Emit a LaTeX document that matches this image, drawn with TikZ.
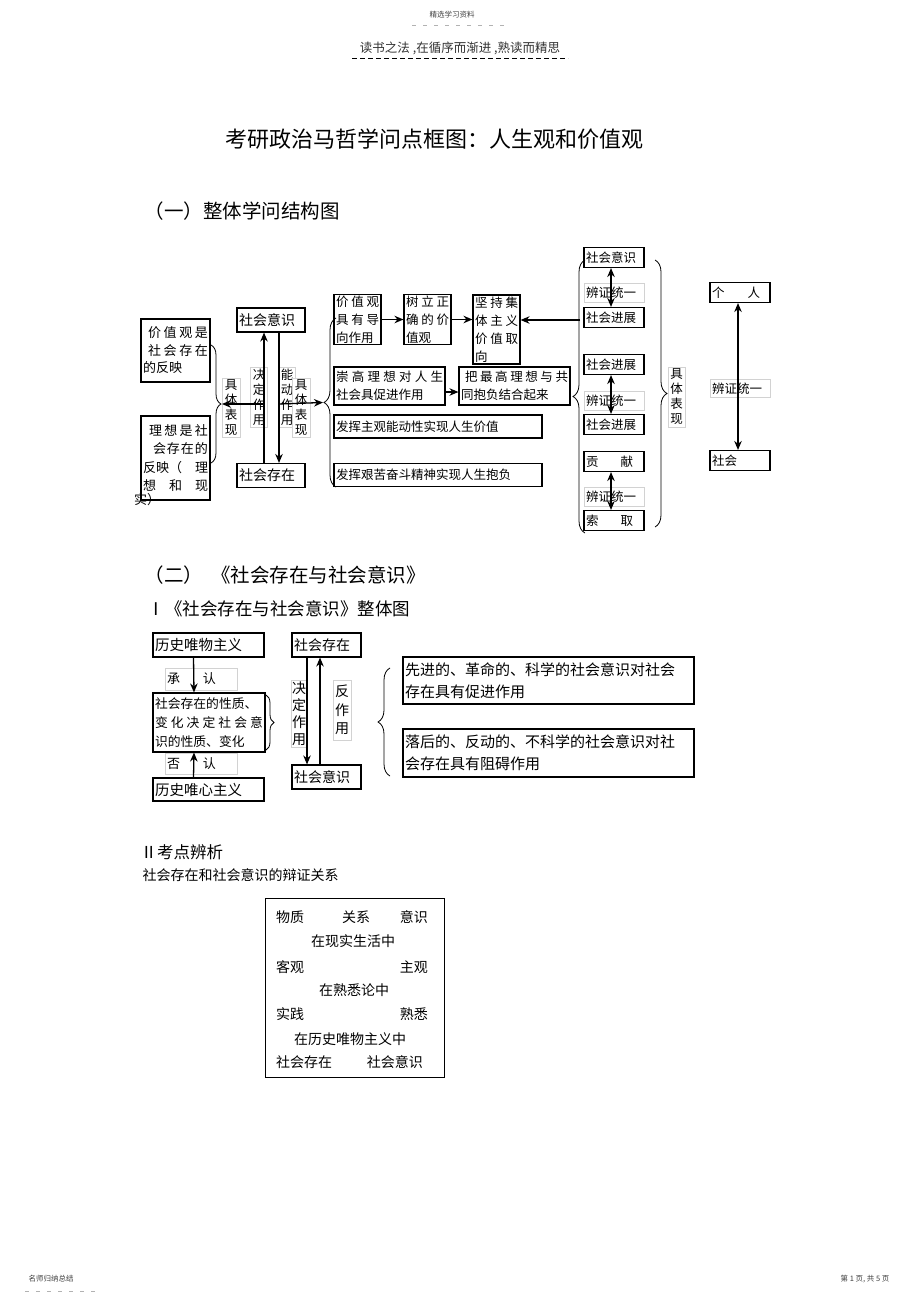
\documentclass[tikz,border=0pt]{standalone}
\usepackage{fontspec}
\setmainfont{Noto Sans CJK SC}
\usepackage{tikz}
\usetikzlibrary{arrows.meta,decorations.pathreplacing}

\tikzset{
  box/.style={draw, line width=1.1pt, inner xsep=2pt, inner ysep=1pt, align=left, font=\fontsize{12.5}{18}\selectfont},
  tag/.style={draw=gray!35, line width=0.6pt, fill=white, inner xsep=2pt, inner ysep=1pt, align=left, font=\fontsize{12.5}{15}\selectfont},
  vtag/.style={tag, align=center, inner xsep=0.5pt},
  txt/.style={inner sep=0pt, font=\fontsize{14}{14}\selectfont},
  arr/.style={->, line width=1.3pt},
  darr/.style={<->, line width=1.3pt},
  brc/.style={decorate, decoration={brace, amplitude=#1}, line width=0.8pt},
}

\begin{document}
\begin{tikzpicture}[x=1pt, y=-1pt, >={Stealth[length=9pt,width=7.5pt]}]
    \useasboundingbox (0,0) rectangle (920,1303);
    \fill[white] (0,0) rectangle (920,1303);

    % page header
    \node[font=\fontsize{7.5}{7.5}\selectfont, text=black!75] (hdr) at (452,15) {精选学习资料};
    \draw[gray!60, line width=0.5pt, dash pattern=on 4pt off 7pt] (412,25) -- (508,25);
    \node[font=\fontsize{12.5}{12.5}\selectfont, text=black!80] (motto) at (460,48) {读书之法 ,在循序而渐进 ,熟读而精思};
    \draw[line width=0.8pt, dash pattern=on 5pt off 3pt] (352,58) -- (568,58);

    \node[font=\fontsize{22}{22}\selectfont] (title) at (434,139) {考研政治马哲学问点框图：人生观和价值观};
    \node[anchor=west, font=\fontsize{19.5}{19.5}\selectfont] (sec1) at (141,211) {（一）整体学问结构图};

    % left part: reflection of social being
    \node[box, text width=65pt, minimum height=63pt, font=\fontsize{13}{17.5}\selectfont] (valbox) at (175.5,350.5)
        {\hspace*{5pt}价\hfill 值\hfill 观\hfill 是\\\hspace*{5pt}社\hfill 会\hfill 存\hfill 在\\的反映};
    \node[box, text width=65pt, minimum height=84pt, font=\fontsize{13}{18.5}\selectfont] (ideabox) at (175.5,458)
        {\hspace*{6pt}理\hfill 想\hfill 是\hfill 社\\\hspace*{10pt}会\hfill 存\hfill 在\hfill 的\\反映（\hfill 理\\想\hfill 和\hfill 现};
    \node[anchor=west, inner sep=0pt, font=\fontsize{13}{13}\selectfont] (ideatail) at (134,500) {实）};

    \node[box, text width=64pt, minimum height=24pt, font=\fontsize{14}{14}\selectfont] (sbox1) at (271,320) {社会意识};
    \node[box, text width=64pt, minimum height=24pt, font=\fontsize{14}{14}\selectfont] (cbox1) at (271,475.5) {社会存在};

    \node[vtag, minimum width=18pt, minimum height=59pt] (tg1) at (231,407.5) {具\\体\\表\\现};
    \node[vtag, minimum width=17pt, minimum height=60pt] (tg2) at (259,397) {决\\定\\作\\用};
    \node[vtag, minimum width=16pt, minimum height=60pt] (tg3) at (287,397) {能\\动\\作\\用};
    \node[vtag, minimum width=18pt, minimum height=59pt] (tg4) at (301,407.5) {具\\体\\表\\现};

    \draw[arr] ([xshift=-7pt]cbox1.north) -- ([xshift=-7pt]sbox1.south);
    \draw[arr] ([xshift=8pt]sbox1.south) -- ([xshift=8pt]cbox1.north);

    \draw[brc=10] (211,345) -- (211,463);
    \draw[brc=12] (336,487) -- (336,318);
    \coordinate (jl) at (264,404);
    \coordinate (jr) at (279,404);
    \coordinate (bl1) at (222,404);
    \coordinate (bl2) at (323,402.5);
    \draw[arr] (jl) -- (bl1);
    \draw[arr] (jr) -- (bl2);

    % middle part: guiding role of values
    \node[box, text width=43pt, minimum height=49pt] (m1) at (357.5,319.5) {价\hfill 值\hfill 观\\具\hfill 有\hfill 导\\向作用};
    \node[box, text width=43pt, minimum height=49pt] (m2) at (427.5,319.5) {树\hfill 立\hfill 正\\确\hfill 的\hfill 价\\值观};
    \node[box, text width=43pt, minimum height=69pt] (m3) at (496.5,329.5) {坚\hfill 持\hfill 集\\体\hfill 主\hfill 义\\价\hfill 值\hfill 取\\向};
    \node[box, text width=107pt, minimum height=38pt] (m4) at (389.5,386) {崇\hfill 高\hfill 理\hfill 想\hfill 对\hfill 人\hfill 生\\社会具促进作用};
    \node[box, text width=107pt, minimum height=38pt] (m5) at (514.5,386) {\hspace*{4pt}把\hfill 最\hfill 高\hfill 理\hfill 想\hfill 与\hfill 共\\同抱负结合起来};
    \node[box, text width=204pt, minimum height=23pt] (m6) at (438,426.5) {发挥主观能动性实现人生价值};
    \node[box, text width=204pt, minimum height=23pt] (m7) at (438,475) {发挥艰苦奋斗精神实现人生抱负};

    \draw[arr] (m1.east) -- (m2.west);
    \draw[arr] (m2.east) -- (m3.west |- m2.east);
    \draw[arr] ([yshift=-6pt]m4.east) -- ([yshift=-6pt]m5.west);
    \coordinate (rin) at (580,320);
    \draw[arr] (rin) -- (m3.east |- rin);

    % right part: dialectical unity
    \node[box, text width=56pt, minimum height=20pt] (r1) at (614,257.5) {社会意识};
    \node[tag, text width=56pt, minimum height=19pt] (rt1) at (614,292.5) {辨证统一};
    \node[box, text width=56pt, minimum height=20pt] (r2) at (614,317.5) {社会进展};
    \node[box, text width=56pt, minimum height=20pt] (r3) at (614,364.5) {社会进展};
    \node[tag, text width=56pt, minimum height=19pt] (rt2) at (614,400.5) {辨证统一};
    \node[box, text width=56pt, minimum height=20pt] (r4) at (614,424.5) {社会进展};
    \node[box, text width=56pt, minimum height=20pt] (r5) at (614,461.5) {贡\hspace{22pt}献};
    \node[tag, text width=56pt, minimum height=19pt] (rt3) at (614,497) {辨证统一};
    \node[box, text width=56pt, minimum height=20pt] (r6) at (614,520.5) {索\hspace{22pt}取};

    \draw[darr] ([xshift=-3pt]r1.south) -- ([xshift=-3pt]r2.north);
    \draw[darr] ([xshift=-3pt]r3.south) -- ([xshift=-3pt]r4.north);
    \draw[darr] ([xshift=-3pt]r5.south) -- ([xshift=-3pt]r6.north);

    \draw[brc=12] (585,533) -- (585,260);
    \draw[brc=12] (655,260) -- (655,527);
    \node[vtag, minimum width=17pt, minimum height=60pt] (rtg) at (676.5,397) {具\\体\\表\\现};

    \node[box, text width=56pt, minimum height=20pt] (p1) at (740,292.5) {个\hspace{23pt}人};
    \node[tag, text width=56pt, minimum height=18pt] (pt) at (740,388.5) {辨证统一};
    \node[box, text width=56pt, minimum height=20pt] (p2) at (740,460.5) {社会};
    \draw[darr] ([xshift=-2pt]p1.south) -- ([xshift=-2pt]p2.north);

    % section two
    \node[anchor=west, font=\fontsize{19.5}{19.5}\selectfont] (sec2) at (141,575) {（二）\hspace{8pt}《社会存在与社会意识》};
    \node[anchor=west, font=\fontsize{17.5}{17.5}\selectfont] (sub1) at (144,609) {Ⅰ《社会存在与社会意识》整体图};

    \node[box, text width=107pt, minimum height=24pt, font=\fontsize{14.5}{14.5}\selectfont] (h1) at (208.5,645) {历史唯物主义};
    \node[tag, text width=68pt, minimum height=22pt, font=\fontsize{13}{13}\selectfont] (ht1) at (201,679) {承\hspace{23pt}认};
    \node[box, text width=108pt, minimum height=59pt, font=\fontsize{12.8}{19}\selectfont] (h2) at (209,722.5)
        {社会存在的性质、\\变\hfill 化\hfill 决\hfill 定\hfill 社\hfill 会\hfill 意\\识的性质、变化};
    \node[tag, text width=68pt, minimum height=21pt, font=\fontsize{13}{13}\selectfont] (ht2) at (201,763.5) {否\hspace{23pt}认};
    \node[box, text width=107pt, minimum height=23pt, font=\fontsize{14.5}{14.5}\selectfont] (h3) at (208.5,789.5) {历史唯心主义};

    \draw[arr] ([xshift=-15pt]h1.south) -- ([xshift=-15pt]h2.north);
    \draw[arr] ([xshift=-15pt]h3.north) -- ([xshift=-15pt]h2.south);
    \draw[brc=8] (266,695) -- (266,750);

    \node[box, text width=65pt, minimum height=24pt, font=\fontsize{14}{14}\selectfont] (s1) at (326.5,645) {社会存在};
    \node[box, text width=65pt, minimum height=24pt, font=\fontsize{14}{14}\selectfont] (s2) at (326.5,777) {社会意识};
    \node[vtag, minimum width=16pt, minimum height=67pt, font=\fontsize{14}{17}\selectfont] (st1) at (299,713.5) {决\\定\\作\\用};
    \node[vtag, minimum width=18pt, minimum height=60pt, font=\fontsize{14}{18.5}\selectfont] (st2) at (342,710) {反\\作\\用};

    \draw[arr] ([xshift=-19.5pt]s1.south) -- ([xshift=-19.5pt]s2.north);
    \draw[arr] ([xshift=-6.5pt]s2.north) -- ([xshift=-6.5pt]s1.south);

    \draw[brc=12] (390,776) -- (390,668);
    \node[box, text width=287pt, minimum height=47pt, font=\fontsize{15}{22}\selectfont] (e1) at (548.5,680.5)
        {先进的、革命的、科学的社会意识对社会\\存在具有促进作用};
    \node[box, text width=287pt, minimum height=48pt, font=\fontsize{15}{22}\selectfont] (e2) at (548.5,753)
        {落后的、反动的、不科学的社会意识对社\\会存在具有阻碍作用};

    % section three
    \node[anchor=west, font=\fontsize{16.5}{16.5}\selectfont] (sub2) at (137,852) {Ⅱ考点辨析};
    \node[anchor=west, font=\fontsize{14}{14}\selectfont] (sub3) at (139,875) {社会存在和社会意识的辩证关系};

    \node[draw, line width=1pt, minimum width=179pt, minimum height=179pt] (rel) at (354.5,987.5) {};
    \node[txt, anchor=west] (q1) at (276,917) {物质};
    \node[txt] (q2) at (356,917) {关系};
    \node[txt, anchor=east] (q3) at (428,917) {意识};
    \node[txt] (q4) at (353,941) {在现实生活中};
    \node[txt, anchor=west] (q5) at (276,967) {客观};
    \node[txt, anchor=east] (q6) at (428,967) {主观};
    \node[txt] (q7) at (354,990) {在熟悉论中};
    \node[txt, anchor=west] (q8) at (276,1014) {实践};
    \node[txt, anchor=east] (q9) at (428,1014) {熟悉};
    \node[txt] (q10) at (350,1039) {在历史唯物主义中};
    \node[txt, anchor=west] (q11) at (276,1062) {社会存在};
    \node[txt, anchor=east] (q12) at (423,1062) {社会意识};

    % page footer
    \node[anchor=west, font=\fontsize{7.5}{7.5}\selectfont, text=black!75] (ftl) at (25,1279) {名师归纳总结};
    \draw[gray!60, line width=0.5pt, dash pattern=on 4pt off 7pt] (25,1291) -- (100,1291);
    \node[anchor=east, font=\fontsize{7.5}{7.5}\selectfont, text=black!75] (ftr) at (893,1279) {第 1 页, 共 5 页};
\end{tikzpicture}
\end{document}
